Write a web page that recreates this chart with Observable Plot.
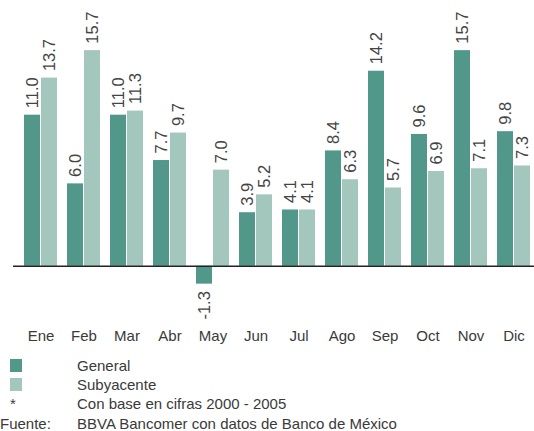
<!DOCTYPE html>
<html>
<head>
<meta charset="utf-8">
<script src="https://cdn.jsdelivr.net/npm/d3@7"></script>
<script src="https://cdn.jsdelivr.net/npm/@observablehq/plot@0.6"></script>
<style>
  body { margin: 0; background: #fff; font-family: "Liberation Sans", Arial, sans-serif; }
  #chart svg { display: block; overflow: visible; }
  .legend { margin-top: 6px; font-size: 15px; color: #3a3a3a; line-height: 19.2px; }
  .row { display: flex; align-items: center; height: 19.2px; }
  .key { width: 77px; flex: none; position: relative; height: 19.2px; }
  .sw { position: absolute; left: 10px; top: 3px; width: 12px; height: 13px; }
  .star { position: absolute; left: 10px; top: 0; }
</style>
</head>
<body>
<div id="chart"></div>
<div class="legend" id="legend"></div>
<script>
const months = ["Ene","Feb","Mar","Abr","May","Jun","Jul","Ago","Sep","Oct","Nov","Dic"];
const general = [11.0, 6.0, 11.0, 7.7, -1.3, 3.9, 4.1, 8.4, 14.2, 9.6, 15.7, 9.8];
const subyacente = [13.7, 15.7, 11.3, 9.7, 7.0, 5.2, 4.1, 6.3, 5.7, 6.9, 7.1, 7.3];
const seriesNames = ["General", "Subyacente"];
const colors = ["#52988a", "#a3c6bd"];
const notes = [["*", "Con base en cifras 2000 - 2005"], ["Fuente:", "BBVA Bancomer con datos de Banco de México"]];

const data = [];
months.forEach((m, i) => {
  data.push({month: m, series: "General", value: general[i]});
  data.push({month: m, series: "Subyacente", value: subyacente[i]});
});
const gen = data.filter(d => d.series === "General");
const sub = data.filter(d => d.series === "Subyacente");
const half = 17;
const fmt = v => v.toFixed(1);

const labelMarks = (arr, dxo) => [
  Plot.text(arr.filter(d => d.value >= 0), {x: "month", y: "value", text: d => fmt(d.value), rotate: -90, textAnchor: "start", dx: dxo, dy: -7, fontSize: 16.5, fill: "#444"}),
  Plot.text(arr.filter(d => d.value < 0), {x: "month", y: "value", text: d => fmt(d.value), rotate: -90, textAnchor: "end", dx: dxo, dy: 7, fontSize: 16.5, fill: "#444"})
];

const chart = Plot.plot({
  width: 534,
  height: 350,
  marginTop: 0,
  marginLeft: 13,
  marginRight: -7,
  marginBottom: 43,
  style: {fontFamily: "'Liberation Sans', Arial, sans-serif", background: "transparent"},
  x: {domain: months, paddingInner: 0.227, paddingOuter: 0.114, label: null, tickSize: 0, tickPadding: 23},
  y: {domain: [-3, 19.35], axis: null},
  marks: [
    Plot.barY(gen, {x: "month", y: "value", fill: colors[0], insetLeft: 0, insetRight: half}),
    Plot.barY(sub, {x: "month", y: "value", fill: colors[1], insetLeft: half, insetRight: 0}),
    Plot.ruleY([0], {stroke: "#222", strokeWidth: 1.5}),
    ...labelMarks(gen, -half / 2),
    ...labelMarks(sub, half / 2)
  ]
});
const ax = chart.querySelector('g[aria-label="x-axis tick label"]') || chart.querySelector('g[aria-label="x-axis"]');
if (ax) { ax.setAttribute("font-size", "15"); ax.setAttribute("fill", "#3a3a3a"); }
document.getElementById("chart").appendChild(chart);

const leg = document.getElementById("legend");
seriesNames.forEach((s, i) => {
  const r = document.createElement("div"); r.className = "row";
  r.innerHTML = `<div class="key"><div class="sw" style="background:${colors[i]}"></div></div><div>${s}</div>`;
  leg.appendChild(r);
});
notes.forEach(([k, t]) => {
  const r = document.createElement("div"); r.className = "row";
  r.innerHTML = `<div class="key"><span class="${k === '*' ? 'star' : ''}">${k}</span></div><div>${t}</div>`;
  leg.appendChild(r);
});
</script>
</body>
</html>
